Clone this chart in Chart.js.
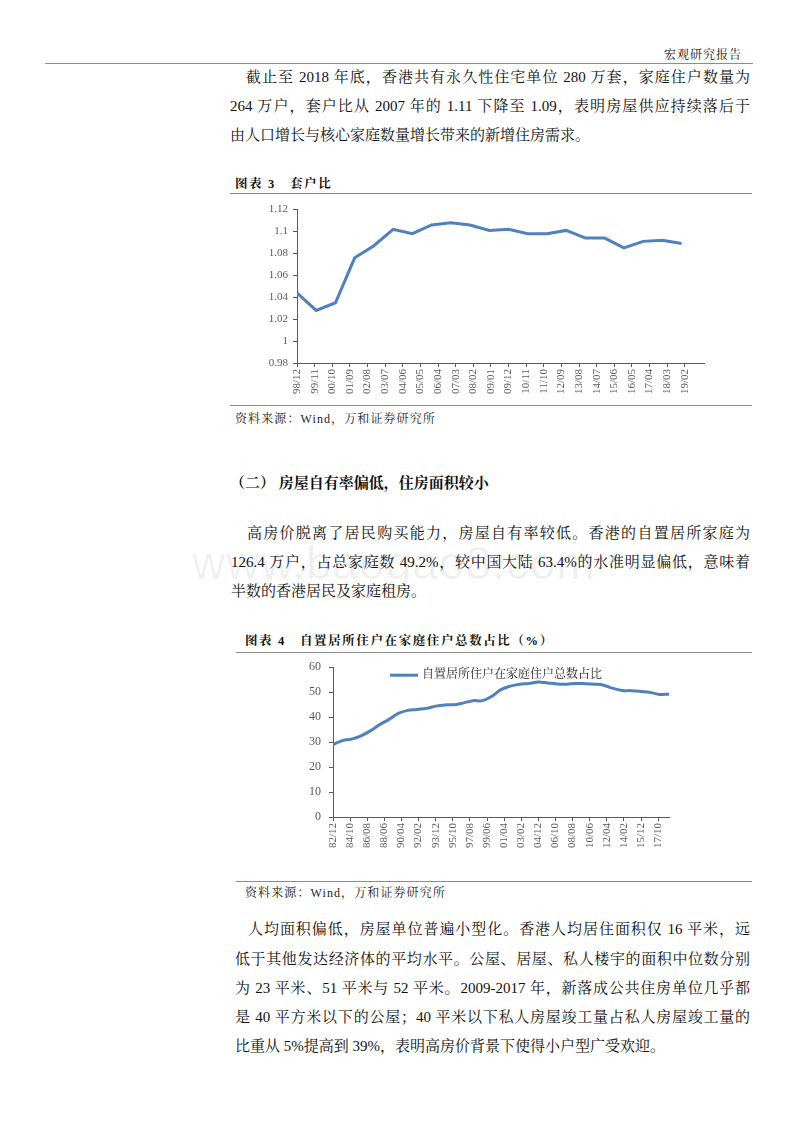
<!DOCTYPE html>
<html>
<head>
<meta charset="utf-8">
<script src="https://cdn.jsdelivr.net/npm/chart.js@4.4.1/dist/chart.umd.min.js"></script>
<style>
  body { margin: 0; width: 800px; height: 1132px; background: #fff; position: relative; overflow: hidden;
         font-family: "Liberation Serif", "Noto Serif CJK SC", "Noto Sans CJK SC", serif; color: #111; }
  .ln { position: absolute; font-size: 15px; line-height: 20px; white-space: nowrap; }
  .jst { text-align: justify; text-align-last: justify; }
  .rule { position: absolute; height: 0; border-top: 1.5px solid #8c8c8c; }
  .cap { position: absolute; font-size: 12.5px; line-height: 16px; font-weight: bold; white-space: nowrap; letter-spacing: 1.6px; }
  .src { position: absolute; font-size: 12px; line-height: 16px; white-space: nowrap; color: #222; letter-spacing: 1.1px; }
  .wm { position: absolute; left: 192px; top: 536px; font-family: "Liberation Sans", sans-serif; font-size: 46px;
        color: rgba(0,0,0,0.06); white-space: nowrap; letter-spacing: 1px; }
  .box { position: absolute; }
</style>
</head>
<body>

<div class="ln" style="left:600px;top:45px;width:142px;font-size:12px;letter-spacing:1px;text-align:right;">宏观研究报告</div>
<div class="rule" style="left:45px;top:63px;width:708px;"></div>

<div class="ln jst" style="left:246px;top:67px;width:504px;">截止至 2018 年底，香港共有永久性住宅单位 280 万套，家庭住户数量为</div>
<div class="ln jst" style="left:230px;top:96px;width:520px;">264 万户，套户比从 2007 年的 1.11 下降至 1.09，表明房屋供应持续落后于</div>
<div class="ln" style="left:230px;top:125px;">由人口增长与核心家庭数量增长带来的新增住房需求。</div>

<div class="cap" style="left:235px;top:176px;">图表 3&nbsp;&nbsp;&nbsp;套户比</div>
<div class="rule" style="left:230px;top:193px;width:522px;"></div>
<div class="box" style="left:240px;top:198px;width:480px;height:207px;"><canvas id="ratioChart" width="480" height="207"></canvas></div>
<div class="rule" style="left:230px;top:405px;width:522px;"></div>
<div class="src" style="left:235px;top:411px;">资料来源：Wind，万和证券研究所</div>

<div class="ln" style="left:230px;top:473px;font-size:15px;font-weight:bold;">（二） 房屋自有率偏低，住房面积较小</div>

<div class="wm">www.baogao8.com</div>

<div class="ln jst" style="left:247px;top:523px;width:503px;">高房价脱离了居民购买能力，房屋自有率较低。香港的自置居所家庭为</div>
<div class="ln jst" style="left:231px;top:552px;width:519px;">126.4 万户，占总家庭数 49.2%，较中国大陆 63.4%的水准明显偏低，意味着</div>
<div class="ln" style="left:231px;top:581px;">半数的香港居民及家庭租房。</div>

<div class="cap" style="left:245px;top:633px;">图表 4&nbsp;&nbsp;&nbsp;自置居所住户在家庭住户总数占比（%）</div>
<div class="rule" style="left:236px;top:652px;width:516px;"></div>
<div class="box" style="left:290px;top:652px;width:395px;height:228px;"><canvas id="ownChart" width="395" height="228"></canvas></div>
<div class="rule" style="left:236px;top:881px;width:516px;"></div>
<div class="src" style="left:245px;top:885px;">资料来源：Wind，万和证券研究所</div>

<div class="ln jst" style="left:248px;top:919px;width:502px;">人均面积偏低，房屋单位普遍小型化。香港人均居住面积仅 16 平米，远</div>
<div class="ln jst" style="left:235px;top:949px;width:515px;">低于其他发达经济体的平均水平。公屋、居屋、私人楼宇的面积中位数分别</div>
<div class="ln jst" style="left:235px;top:978px;width:515px;">为 23 平米、51 平米与 52 平米。2009-2017 年，新落成公共住房单位几乎都</div>
<div class="ln jst" style="left:235px;top:1007px;width:515px;">是 40 平方米以下的公屋；40 平米以下私人房屋竣工量占私人房屋竣工量的</div>
<div class="ln" style="left:235px;top:1036px;">比重从 5%提高到 39%，表明高房价背景下使得小户型广受欢迎。</div>

<script>
// 套户比 (year-end values)
const ratioYears = [1998, 1999, 2000, 2001, 2002, 2003, 2004, 2005, 2006, 2007, 2008,
                    2009, 2010, 2011, 2012, 2013, 2014, 2015, 2016, 2017, 2018];
const ratioValues = [1.044, 1.028, 1.035, 1.076, 1.087, 1.102, 1.098, 1.106, 1.108, 1.106, 1.101,
                     1.102, 1.098, 1.098, 1.101, 1.094, 1.094, 1.085, 1.091, 1.092, 1.089];
const ratioTickLabels = ['98/12', '99/11', '00/10', '01/09', '02/08', '03/07', '04/06', '05/05',
                         '06/04', '07/03', '08/02', '09/01', '09/12', '10/11', '11/10', '12/09',
                         '13/08', '14/07', '15/06', '16/05', '17/04', '18/03', '19/02'];

// 自置居所住户在家庭住户总数占比 (%)
const ownYears = [1982, 1983, 1984, 1985, 1986, 1987, 1988, 1989, 1990, 1991, 1992, 1993, 1994,
                  1995, 1996, 1997, 1998, 1999, 2000, 2001, 2002, 2003, 2004, 2005, 2006, 2007,
                  2008, 2009, 2010, 2011, 2012, 2013, 2014, 2015, 2016, 2017, 2018];
const ownValues = [29.0, 30.6, 31.2, 32.5, 34.5, 37.0, 39.1, 41.5, 42.7, 43.1, 43.5, 44.4, 44.9,
                   45.0, 45.7, 46.6, 46.6, 48.3, 51.0, 52.4, 53.2, 53.5, 54.1, 53.7, 53.3, 53.2,
                   53.5, 53.4, 53.2, 52.8, 51.5, 50.7, 50.6, 50.3, 49.9, 49.1, 49.2];
const ownTickLabels = ['82/12', '84/10', '86/08', '88/06', '90/04', '92/02', '93/12', '95/10',
                       '97/08', '99/06', '01/04', '03/02', '04/12', '06/10', '08/08', '10/06',
                       '12/04', '14/02', '15/12', '17/10'];
const ownLegend = '自置居所住户在家庭住户总数占比';

const lineBlue = '#4F81BD';
const axisGrey = '#5a5a5a';
const tickGrey = '#595959';
const cjkFont = '"Liberation Serif", "Noto Serif CJK SC", "Noto Sans CJK SC", serif';

// "yy/mm" -> absolute month count
function labelMonth(s) {
  const yy = parseInt(s.slice(0, 2), 10);
  const mm = parseInt(s.slice(3), 10);
  return (yy > 50 ? 1900 + yy : 2000 + yy) * 12 + mm;
}
function yearEndMonth(y) { return y * 12 + 12; }

function monthAxis(labels, start, max, height) {
  const tickMap = {};
  labels.forEach(l => { tickMap[labelMonth(l) - start] = l; });
  return {
    type: 'linear',
    min: 0,
    max: max,
    afterBuildTicks: s => { s.ticks = labels.map(l => ({ value: labelMonth(l) - start })); },
    afterFit: s => { s.height = height; },
    border: { display: true, color: axisGrey, width: 1 },
    grid: { drawOnChartArea: false, drawTicks: true, tickLength: 4, tickColor: axisGrey },
    ticks: {
      autoSkip: false, minRotation: 90, maxRotation: 90, padding: 2,
      color: tickGrey, font: { family: '"Liberation Serif", serif', size: 11 },
      callback: v => tickMap[v] || ''
    }
  };
}

// legend drawn inside the plot area, near the top (Excel style)
const insideLegend = {
  id: 'insideLegend',
  afterDatasetsDraw(chart) {
    const { ctx, chartArea } = chart;
    const ds = chart.data.datasets[0];
    const x = chartArea.left + 57, y = chartArea.top + 8;
    ctx.save();
    ctx.strokeStyle = ds.borderColor;
    ctx.lineWidth = ds.borderWidth;
    ctx.beginPath();
    ctx.moveTo(x, y);
    ctx.lineTo(x + 28, y);
    ctx.stroke();
    ctx.fillStyle = '#222';
    ctx.font = '12px ' + cjkFont;
    ctx.textBaseline = 'middle';
    ctx.fillText(ds.label, x + 32, y);
    ctx.restore();
  }
};

Chart.defaults.animation = false;

// Chart 3: 套户比
const r0 = labelMonth(ratioTickLabels[0]);
new Chart(document.getElementById('ratioChart').getContext('2d'), {
  type: 'line',
  data: {
    datasets: [{
      data: ratioYears.map((y, i) => ({ x: yearEndMonth(y) - r0, y: ratioValues[i] })),
      borderColor: lineBlue,
      borderWidth: 3,
      pointRadius: 0,
      tension: 0,
      fill: false
    }]
  },
  options: {
    responsive: false,
    layout: { padding: { top: 10, right: 16, left: 0, bottom: 0 } },
    plugins: { legend: { display: false }, tooltip: { enabled: false } },
    scales: {
      x: monthAxis(ratioTickLabels, r0, 254, 42),
      y: {
        min: 0.98, max: 1.12,
        afterFit: s => { s.width = 57; },
        border: { display: true, color: axisGrey, width: 1 },
        grid: { drawOnChartArea: false, drawTicks: true, tickLength: 4, tickColor: axisGrey },
        ticks: {
          stepSize: 0.02, padding: 5, color: tickGrey,
          font: { family: '"Liberation Serif", serif', size: 11 },
          callback: v => String(Number(v.toFixed(2)))
        }
      }
    }
  }
});

// Chart 4: 自置居所住户占比
const o0 = labelMonth(ownTickLabels[0]);
new Chart(document.getElementById('ownChart').getContext('2d'), {
  type: 'line',
  data: {
    datasets: [{
      label: ownLegend,
      data: ownYears.map((y, i) => ({ x: yearEndMonth(y) - o0, y: ownValues[i] })),
      borderColor: lineBlue,
      borderWidth: 3,
      pointRadius: 0,
      tension: 0.4,
      fill: false
    }]
  },
  options: {
    responsive: false,
    layout: { padding: { top: 10, right: 16, left: 0, bottom: 0 } },
    plugins: { legend: { display: false }, tooltip: { enabled: false } },
    scales: {
      x: monthAxis(ownTickLabels, o0, yearEndMonth(ownYears[ownYears.length - 1]) - o0, 63),
      y: {
        min: 0, max: 60,
        afterFit: s => { s.width = 43; },
        border: { display: true, color: axisGrey, width: 1 },
        grid: { drawOnChartArea: false, drawTicks: true, tickLength: 4, tickColor: axisGrey },
        ticks: {
          stepSize: 10, padding: 8, color: tickGrey,
          font: { family: '"Liberation Serif", serif', size: 12 }
        }
      }
    }
  },
  plugins: [insideLegend]
});
</script>
</body>
</html>
